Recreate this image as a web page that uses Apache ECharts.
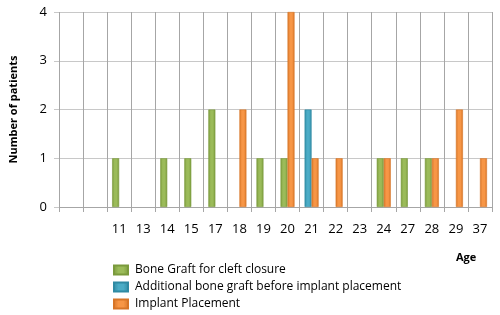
<!DOCTYPE html>
<html>
<head>
<meta charset="utf-8">
<script src="https://cdn.jsdelivr.net/npm/echarts@6/dist/echarts.min.js"></script>
<style>
  html, body { margin: 0; padding: 0; background: #fff; }
  #chart { width: 500px; height: 315px; }
</style>
</head>
<body>
<div id="chart"></div>
<script>
// two empty slots before the first age, as in the original
var ages = ['', '', '11', '13', '14', '15', '17', '18', '19', '20', '21', '22', '23', '24', '27', '28', '29', '37'];
var boneGraft = [null, null, 1, null, 1, 1, 2, null, 1, 1, null, null, null, 1, 1, 1, null, null];
var additionalGraft = [null, null, null, null, null, null, null, null, null, null, 2, null, null, null, null, null, null, null];
var implant = [null, null, null, null, null, null, null, 2, null, 4, 1, 1, null, 1, null, 1, 2, 1];
var yTicks = [0, 1, 2, 3, 4];

var font = 'Open Sans';

function barStyle(main, edge) {
  return {
    color: new echarts.graphic.LinearGradient(0, 0, 1, 0, [
      {offset: 0, color: edge},
      {offset: 0.35, color: main},
      {offset: 0.65, color: main},
      {offset: 1, color: edge}
    ]),
    borderColor: edge,
    borderWidth: 0.6
  };
}

var myChart = echarts.init(document.getElementById('chart'));
myChart.setOption({
  animation: false,
  textStyle: {fontFamily: font},
  grid: {left: 58, right: 8, top: 12, bottom: 108},
  legend: {
    orient: 'vertical',
    left: 113,
    top: 264,
    height: 60,
    padding: 0,
    icon: 'rect',
    itemWidth: 14,
    itemHeight: 9,
    itemGap: 5,
    textStyle: {fontSize: 12, color: '#000', fontFamily: font, padding: [0, 0, 0, 2]},
    data: ['Bone Graft for cleft closure', 'Additional bone graft before implant placement', 'Implant Placement']
  },
  graphic: [{
    type: 'text',
    left: 456,
    top: 252,
    style: {text: 'Age', fontSize: 11, fontWeight: 'bold', fill: '#000', fontFamily: font}
  }],
  xAxis: {
    type: 'category',
    data: ages,
    axisLine: {lineStyle: {color: '#a6a6a6'}},
    axisTick: {show: true, length: 5, lineStyle: {color: '#a6a6a6'}},
    axisLabel: {interval: 0, color: '#000', fontSize: 13, margin: 16},
    splitLine: {show: true, lineStyle: {color: '#a6a6a6'}}
  },
  yAxis: {
    type: 'value',
    min: yTicks[0],
    max: yTicks[yTicks.length - 1],
    interval: 1,
    name: 'Number of patients',
    nameLocation: 'middle',
    nameGap: 40,
    nameTextStyle: {fontSize: 11, fontWeight: 'bold', color: '#000'},
    axisLine: {show: false},
    axisTick: {show: true, length: 5, lineStyle: {color: '#c8c8c8'}},
    axisLabel: {color: '#000', fontSize: 13, margin: 12},
    splitLine: {lineStyle: {color: '#c8c8c8'}}
  },
  series: [
    {
      name: 'Bone Graft for cleft closure',
      type: 'bar',
      stack: 'graft',
      data: boneGraft,
      barWidth: 7,
      barGap: '0%',
      itemStyle: barStyle('#9bbb59', '#7a9a3c')
    },
    {
      name: 'Additional bone graft before implant placement',
      type: 'bar',
      stack: 'graft',
      data: additionalGraft,
      barWidth: 7,
      itemStyle: barStyle('#4bacc6', '#2f8aa3')
    },
    {
      name: 'Implant Placement',
      type: 'bar',
      data: implant,
      barWidth: 7,
      barGap: '0%',
      itemStyle: barStyle('#f79646', '#d77527')
    }
  ]
});
</script>
</body>
</html>
